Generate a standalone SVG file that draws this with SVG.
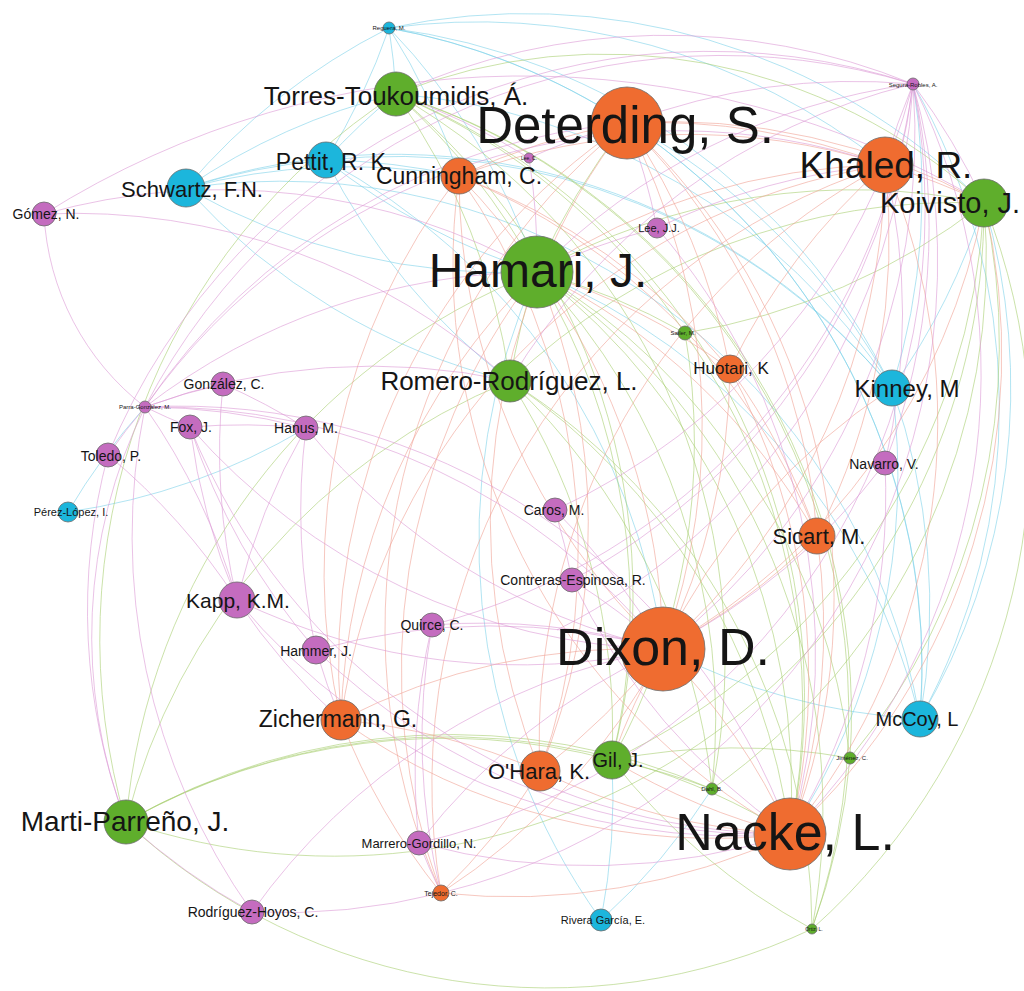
<svg xmlns="http://www.w3.org/2000/svg" width="1024" height="991" viewBox="0 0 1024 991">
<style>
.e path{fill:none;stroke-width:1;opacity:.6}
.b path{stroke:#7fd2ea}
.g path{stroke:#a9cf72}
.o path{stroke:#f0a294}
.p path{stroke:#dc9ad6}
circle{stroke:#6b6b6b;stroke-width:.8}
.no{fill:#ef6c30}.gr{fill:#5fae2c}.bl{fill:#1cb6dc}.pu{fill:#c46cbf}
text{font-family:"Liberation Sans",Arial,sans-serif;fill:#151515;text-anchor:middle;dominant-baseline:central}
</style>
<rect width="1024" height="991" fill="#ffffff"/>
<g id="connectors" class="e">
<g class="b">
<path d="M389 28A650 650 0 0 1 326 160"/><path d="M389 28A650 650 0 0 0 186 188"/><path d="M389 28A650 650 0 0 1 396 94"/>
<path d="M389 28A650 650 0 0 1 459 176"/><path d="M389 28A650 650 0 0 1 892 388"/><path d="M389 28A650 650 0 0 1 920 719"/>
<path d="M389 28A650 650 0 0 1 627 123"/><path d="M389 28A650 650 0 0 1 885 165"/><path d="M389 28A650 650 0 0 1 537 272"/>
<path d="M389 28A650 650 0 0 1 984 203"/><path d="M326 160A650 650 0 0 0 186 188"/><path d="M326 160A650 650 0 0 1 396 94"/>
<path d="M186 188A650 650 0 0 1 396 94"/><path d="M186 188A650 650 0 0 1 459 176"/><path d="M326 160A650 650 0 0 1 459 176"/>
<path d="M186 188A650 650 0 0 0 510 381"/><path d="M326 160A650 650 0 0 0 510 381"/><path d="M186 188A650 650 0 0 0 537 272"/>
<path d="M326 160A650 650 0 0 0 537 272"/><path d="M326 160A650 650 0 0 1 892 388"/><path d="M186 188A650 650 0 0 1 892 388"/>
<path d="M396 94A650 650 0 0 1 892 388"/><path d="M892 388A650 650 0 0 1 920 719"/><path d="M892 388A650 650 0 0 0 984 203"/>
<path d="M920 719A650 650 0 0 0 984 203"/><path d="M892 388A650 650 0 0 0 913 84"/><path d="M920 719A650 650 0 0 0 913 84"/>
<path d="M892 388A650 650 0 0 0 627 123"/><path d="M920 719A650 650 0 0 0 627 123"/><path d="M920 719A650 650 0 0 0 537 272"/>
<path d="M920 719A650 650 0 0 1 663 649"/><path d="M68 512A650 650 0 0 1 145 407"/><path d="M68 512A650 650 0 0 0 306 428"/>
<path d="M601 920A650 650 0 0 0 712 789"/><path d="M601 920A650 650 0 0 0 612 760"/><path d="M601 920A650 650 0 0 1 537 272"/>
<path d="M892 388A650 650 0 0 1 790 834"/><path d="M186 188A650 650 0 0 1 920 719"/><path d="M326 160A650 650 0 0 1 663 649"/>
</g>
<g class="g">
<path d="M396 94A560 560 0 0 1 984 203"/><path d="M396 94A650 650 0 0 1 537 272"/><path d="M396 94A650 650 0 0 1 510 381"/>
<path d="M396 94A650 650 0 0 0 126 822"/><path d="M396 94A650 650 0 0 1 612 760"/><path d="M396 94A650 650 0 0 1 712 789"/>
<path d="M396 94A650 650 0 0 1 812 929"/><path d="M396 94A650 650 0 0 1 850 758"/><path d="M396 94A650 650 0 0 1 790 834"/>
<path d="M537 272A650 650 0 0 1 984 203"/><path d="M537 272A650 650 0 0 1 627 123"/><path d="M537 272A650 650 0 0 1 790 834"/>
<path d="M537 272A650 650 0 0 1 612 760"/><path d="M537 272A650 650 0 0 1 812 929"/><path d="M537 272A650 650 0 0 1 850 758"/>
<path d="M537 272A650 650 0 0 1 712 789"/><path d="M537 272A650 650 0 0 0 510 381"/><path d="M510 381A650 650 0 0 1 612 760"/>
<path d="M510 381A650 650 0 0 0 126 822"/><path d="M510 381A650 650 0 0 1 812 929"/><path d="M510 381A650 650 0 0 1 712 789"/>
<path d="M510 381A650 650 0 0 1 984 203"/><path d="M510 381A650 650 0 0 1 790 834"/><path d="M126 822A620 620 0 0 0 812 929"/>
<path d="M126 822A650 650 0 0 1 612 760"/><path d="M126 822A650 650 0 0 1 790 834"/><path d="M126 822A650 650 0 0 1 712 789"/>
<path d="M984 203A650 650 0 0 1 812 929"/><path d="M984 203A650 650 0 0 1 850 758"/><path d="M984 203A650 650 0 0 1 612 760"/>
<path d="M984 203A650 650 0 0 1 712 789"/><path d="M685 333A650 650 0 0 1 790 834"/><path d="M685 333A650 650 0 0 0 537 272"/>
<path d="M685 333A650 650 0 0 0 984 203"/><path d="M612 760A650 650 0 0 1 850 758"/><path d="M612 760A650 650 0 0 0 812 929"/>
<path d="M612 760A650 650 0 0 1 712 789"/><path d="M850 758A650 650 0 0 1 812 929"/><path d="M537 272A650 650 0 0 0 126 822"/>
<path d="M685 333A650 650 0 0 1 612 760"/><path d="M396 94A650 650 0 0 1 685 333"/><path d="M984 203A650 650 0 0 1 126 822"/>
</g>
<g class="o">
<path d="M627 123A650 650 0 0 1 885 165"/><path d="M627 123A650 650 0 0 1 790 834"/><path d="M627 123A650 650 0 0 1 663 649"/>
<path d="M627 123A650 650 0 0 1 817 536"/><path d="M627 123A650 650 0 0 1 730 369"/><path d="M627 123A650 650 0 0 0 341 720"/>
<path d="M627 123A650 650 0 0 0 459 176"/><path d="M627 123A650 650 0 0 0 540 771"/><path d="M627 123A650 650 0 0 0 441 893"/>
<path d="M885 165A650 650 0 0 1 790 834"/><path d="M885 165A650 650 0 0 1 663 649"/><path d="M885 165A650 650 0 0 1 817 536"/>
<path d="M885 165A650 650 0 0 0 730 369"/><path d="M885 165A650 650 0 0 0 540 771"/><path d="M885 165A650 650 0 0 0 341 720"/>
<path d="M885 165A650 650 0 0 0 459 176"/><path d="M885 165A650 650 0 0 0 441 893"/><path d="M663 649A650 650 0 0 1 790 834"/>
<path d="M663 649A650 650 0 0 0 341 720"/><path d="M663 649A650 650 0 0 0 730 369"/><path d="M663 649A650 650 0 0 0 817 536"/>
<path d="M663 649A650 650 0 0 1 540 771"/><path d="M663 649A650 650 0 0 1 441 893"/><path d="M663 649A650 650 0 0 1 459 176"/>
<path d="M790 834A650 650 0 0 1 341 720"/><path d="M790 834A650 650 0 0 0 817 536"/><path d="M790 834A650 650 0 0 0 730 369"/>
<path d="M790 834A650 650 0 0 1 540 771"/><path d="M790 834A650 650 0 0 1 441 893"/><path d="M790 834A650 650 0 0 1 459 176"/>
<path d="M341 720A650 650 0 0 0 441 893"/><path d="M540 771A650 650 0 0 1 441 893"/><path d="M459 176A650 650 0 0 1 817 536"/>
<path d="M817 536A650 650 0 0 0 730 369"/><path d="M537 272A650 650 0 0 1 663 649"/><path d="M537 272A650 650 0 0 1 885 165"/>
<path d="M984 203A650 650 0 0 1 663 649"/><path d="M984 203A650 650 0 0 1 790 834"/><path d="M984 203A650 650 0 0 0 885 165"/>
<path d="M663 649A650 650 0 0 0 612 760"/><path d="M790 834A650 650 0 0 1 612 760"/><path d="M459 176A650 650 0 0 1 730 369"/>
<path d="M341 720A650 650 0 0 1 540 771"/><path d="M459 176A650 650 0 0 0 341 720"/><path d="M459 176A650 650 0 0 1 540 771"/>
<path d="M537 272A650 650 0 0 0 341 720"/><path d="M537 272A650 650 0 0 1 817 536"/><path d="M537 272A650 650 0 0 1 730 369"/>
<path d="M537 272A650 650 0 0 1 540 771"/><path d="M537 272A650 650 0 0 0 459 176"/><path d="M627 123A650 650 0 0 1 984 203"/>
<path d="M537 272A650 650 0 0 0 441 893"/><path d="M892 388A650 650 0 0 0 663 649"/>
</g>
<g class="p">
<path d="M913 84A650 650 0 0 0 145 407"/><path d="M913 84A650 650 0 0 0 885 165"/><path d="M913 84A650 650 0 0 1 984 203"/>
<path d="M913 84A650 650 0 0 1 790 834"/><path d="M913 84A650 650 0 0 1 663 649"/><path d="M913 84A650 650 0 0 0 627 123"/>
<path d="M913 84A650 650 0 0 0 537 272"/><path d="M913 84A650 650 0 0 0 396 94"/><path d="M913 84A650 650 0 0 0 510 381"/>
<path d="M913 84A650 650 0 0 1 419 843"/><path d="M913 84A650 650 0 0 1 441 893"/><path d="M913 84A650 650 0 0 1 555 510"/>
<path d="M913 84A650 650 0 0 1 572 580"/><path d="M913 84A650 650 0 0 1 432 625"/><path d="M145 407A650 650 0 0 1 223 384"/>
<path d="M145 407A650 650 0 0 0 190 427"/><path d="M145 407A650 650 0 0 1 306 428"/><path d="M145 407A650 650 0 0 0 108 455"/>
<path d="M145 407A650 650 0 0 1 237 600"/><path d="M44 214A260 260 0 0 0 145 407"/><path d="M145 407A650 650 0 0 1 537 272"/>
<path d="M145 407A650 650 0 0 1 627 123"/><path d="M145 407A650 650 0 0 1 510 381"/><path d="M145 407A520 520 0 0 0 126 822"/>
<path d="M145 407A650 650 0 0 1 663 649"/><path d="M145 407A650 650 0 0 1 790 834"/><path d="M145 407A650 650 0 0 1 885 165"/>
<path d="M44 214A900 900 0 0 1 984 203"/><path d="M44 214A650 650 0 0 1 537 272"/><path d="M190 427A650 650 0 0 1 306 428"/>
<path d="M190 427A650 650 0 0 0 237 600"/><path d="M190 427A650 650 0 0 0 316 650"/><path d="M190 427A650 650 0 0 0 663 649"/>
<path d="M190 427A650 650 0 0 0 790 834"/><path d="M223 384A650 650 0 0 1 306 428"/><path d="M306 428A650 650 0 0 0 237 600"/>
<path d="M306 428A650 650 0 0 0 316 650"/><path d="M306 428A650 650 0 0 0 663 649"/><path d="M237 600A650 650 0 0 0 663 649"/>
<path d="M237 600A650 650 0 0 0 790 834"/><path d="M237 600A650 650 0 0 0 341 720"/><path d="M316 650A650 650 0 0 0 341 720"/>
<path d="M316 650A650 650 0 0 0 790 834"/><path d="M316 650A650 650 0 0 1 663 649"/><path d="M419 843A650 650 0 0 0 441 893"/>
<path d="M419 843A650 650 0 0 1 663 649"/><path d="M419 843A650 650 0 0 0 790 834"/><path d="M252 912A650 650 0 0 0 441 893"/>
<path d="M252 912A650 650 0 0 1 126 822"/><path d="M252 912A650 650 0 0 1 663 649"/><path d="M555 510A650 650 0 0 1 663 649"/>
<path d="M555 510A650 650 0 0 1 572 580"/><path d="M572 580A650 650 0 0 1 663 649"/><path d="M572 580A650 650 0 0 0 790 834"/>
<path d="M432 625A650 650 0 0 1 663 649"/><path d="M432 625A650 650 0 0 0 419 843"/><path d="M432 625A650 650 0 0 0 441 893"/>
<path d="M657 228A650 650 0 0 0 627 123"/><path d="M657 228A650 650 0 0 0 537 272"/><path d="M657 228A650 650 0 0 1 790 834"/>
<path d="M657 228A650 650 0 0 1 885 165"/><path d="M529 158A650 650 0 0 1 627 123"/><path d="M529 158A650 650 0 0 1 537 272"/>
<path d="M529 158A650 650 0 0 0 396 94"/><path d="M885 463A650 650 0 0 0 885 165"/><path d="M885 463A650 650 0 0 1 663 649"/>
<path d="M885 463A650 650 0 0 1 790 834"/><path d="M885 463A650 650 0 0 0 913 84"/><path d="M108 455A650 650 0 0 1 237 600"/>
<path d="M108 455A600 600 0 0 0 126 822"/><path d="M223 384A650 650 0 0 0 237 600"/><path d="M44 214A650 650 0 0 1 510 381"/>
<path d="M108 455A650 650 0 0 1 913 84"/><path d="M252 912A650 650 0 0 1 145 407"/><path d="M913 84A650 650 0 0 1 557 630"/>
</g>
</g>
<g id="n-raya"><circle class="bl" cx="389" cy="28" r="6"/><text x="389" y="28" font-size="6">Reguera, M.</text></g>
<g id="n-torres"><circle class="gr" cx="396" cy="94" r="22"/><text x="396" y="96" font-size="26">Torres-Toukoumidis, Á.</text></g>
<g id="n-segura"><circle class="pu" cx="913" cy="84" r="6"/><text x="913" y="85" font-size="6">Segura-Robles, A.</text></g>
<g id="n-pettit"><circle class="bl" cx="326" cy="160" r="18"/><text x="334" y="162" font-size="23">Pettit, R. K.</text></g>
<g id="n-schwartz"><circle class="bl" cx="186" cy="188" r="19"/><text x="192" y="189" font-size="22">Schwartz, F.N.</text></g>
<g id="n-cunningham"><circle class="no" cx="459" cy="176" r="18"/><text x="459" y="176" font-size="23">Cunningham, C.</text></g>
<g id="n-lee-c"><circle class="pu" cx="529" cy="158" r="5"/><text x="529" y="158" font-size="5">Lee, C.</text></g>
<g id="n-deterding"><circle class="no" cx="627" cy="123" r="36"/><text x="625" y="125" font-size="51">Deterding, S.</text></g>
<g id="n-khaled"><circle class="no" cx="885" cy="165" r="28"/><text x="886" y="165" font-size="37">Khaled, R.</text></g>
<g id="n-koivisto"><circle class="gr" cx="984" cy="203" r="24"/><text x="950" y="203" font-size="29">Koivisto, J.</text></g>
<g id="n-gomez"><circle class="pu" cx="44" cy="214" r="12"/><text x="46" y="214" font-size="14">Gómez, N.</text></g>
<g id="n-leejj"><circle class="pu" cx="657" cy="228" r="10"/><text x="659" y="228" font-size="11">Lee, J.J.</text></g>
<g id="n-hamari"><circle class="gr" cx="537" cy="272" r="36"/><text x="538" y="270" font-size="48">Hamari, J.</text></g>
<g id="n-sailer"><circle class="gr" cx="685" cy="333" r="7"/><text x="683" y="333" font-size="6">Sailer, M.</text></g>
<g id="n-huotari"><circle class="no" cx="730" cy="369" r="14"/><text x="731" y="368" font-size="17">Huotari, K</text></g>
<g id="n-romero"><circle class="gr" cx="510" cy="381" r="21"/><text x="509" y="381" font-size="26">Romero-Rodríguez, L.</text></g>
<g id="n-kinney"><circle class="bl" cx="892" cy="388" r="18"/><text x="907" y="388" font-size="24">Kinney, M</text></g>
<g id="n-parra"><circle class="pu" cx="145" cy="407" r="6"/><text x="145" y="407" font-size="6">Parra-González, M.</text></g>
<g id="n-gonzalez"><circle class="pu" cx="223" cy="384" r="12"/><text x="224" y="384" font-size="14">González, C.</text></g>
<g id="n-fox"><circle class="pu" cx="190" cy="427" r="12"/><text x="191" y="427" font-size="14">Fox, J.</text></g>
<g id="n-hanus"><circle class="pu" cx="306" cy="428" r="12"/><text x="306" y="428" font-size="14">Hanus, M.</text></g>
<g id="n-toledo"><circle class="pu" cx="108" cy="455" r="12"/><text x="111" y="456" font-size="14">Toledo, P.</text></g>
<g id="n-navarro"><circle class="pu" cx="885" cy="463" r="12"/><text x="884" y="464" font-size="14">Navarro, V.</text></g>
<g id="n-perez"><circle class="bl" cx="68" cy="512" r="10"/><text x="71" y="512" font-size="11">Pérez-López, I.</text></g>
<g id="n-caros"><circle class="pu" cx="555" cy="510" r="12"/><text x="554" y="510" font-size="14">Caros, M.</text></g>
<g id="n-sicart"><circle class="no" cx="817" cy="536" r="18"/><text x="819" y="536" font-size="22">Sicart, M.</text></g>
<g id="n-contreras"><circle class="pu" cx="572" cy="580" r="12"/><text x="573" y="580" font-size="14">Contreras-Espinosa, R.</text></g>
<g id="n-kapp"><circle class="pu" cx="237" cy="600" r="18"/><text x="238" y="600" font-size="21">Kapp, K.M.</text></g>
<g id="n-quirce"><circle class="pu" cx="432" cy="625" r="12"/><text x="432" y="625" font-size="14">Quirce, C.</text></g>
<g id="n-dixon"><circle class="no" cx="663" cy="649" r="42"/><text x="663" y="647" font-size="52">Dixon, D.</text></g>
<g id="n-hammer"><circle class="pu" cx="316" cy="650" r="14"/><text x="316" y="651" font-size="14">Hammer, J.</text></g>
<g id="n-zichermann"><circle class="no" cx="341" cy="720" r="20"/><text x="338" y="719" font-size="23">Zichermann, G.</text></g>
<g id="n-mccoy"><circle class="bl" cx="920" cy="719" r="18"/><text x="917" y="719" font-size="20">McCoy, L</text></g>
<g id="n-gil"><circle class="gr" cx="612" cy="760" r="19"/><text x="618" y="760" font-size="20">Gil, J.</text></g>
<g id="n-ohara"><circle class="no" cx="540" cy="771" r="20"/><text x="539" y="771" font-size="22">O'Hara, K.</text></g>
<g id="n-jimenez"><circle class="gr" cx="850" cy="758" r="6"/><text x="852" y="758" font-size="6">Jiménez, C.</text></g>
<g id="n-dahl"><circle class="gr" cx="712" cy="789" r="6"/><text x="712" y="789" font-size="6">Dahl, B.</text></g>
<g id="n-marti"><circle class="gr" cx="126" cy="822" r="22"/><text x="125" y="821" font-size="28">Marti-Parreño, J.</text></g>
<g id="n-nacke"><circle class="no" cx="790" cy="834" r="36"/><text x="785" y="832" font-size="52">Nacke, L.</text></g>
<g id="n-marrero"><circle class="pu" cx="419" cy="843" r="12"/><text x="419" y="843" font-size="13">Marrero-Gordillo, N.</text></g>
<g id="n-tejedor"><circle class="no" cx="441" cy="893" r="8"/><text x="441" y="893" font-size="7">Tejedor, C.</text></g>
<g id="n-rodriguez"><circle class="pu" cx="252" cy="912" r="12"/><text x="253" y="912" font-size="14">Rodríguez-Hoyos, C.</text></g>
<g id="n-rivera"><circle class="bl" cx="601" cy="920" r="11"/><text x="603" y="920" font-size="11">Rivera García, E.</text></g>
<g id="n-ortiz"><circle class="gr" cx="812" cy="929" r="5"/><text x="814" y="929" font-size="5">Ortiz, L.</text></g>
</svg>
